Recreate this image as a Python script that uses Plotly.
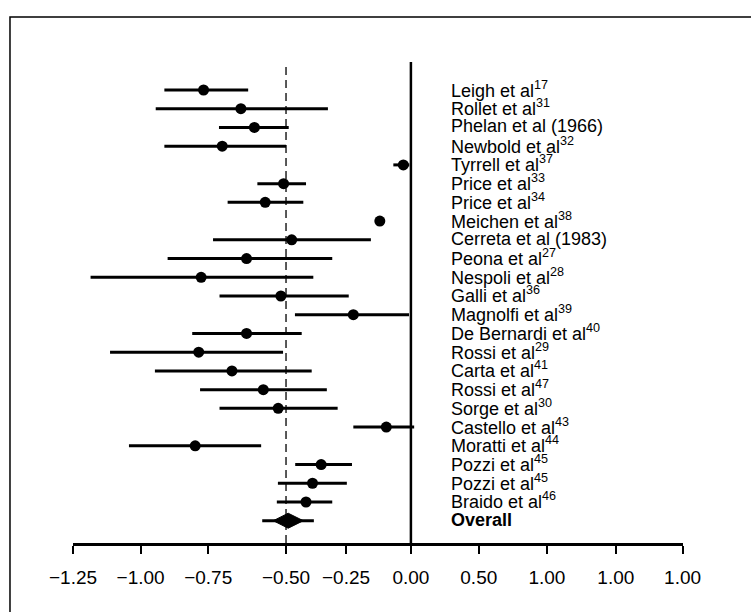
import plotly.graph_objects as go

# ---------------- data ----------------
studies = [
    "Leigh et al<sup>17</sup>",
    "Rollet et al<sup>31</sup>",
    "Phelan et al (1966)",
    "Newbold et al<sup>32</sup>",
    "Tyrrell et al<sup>37</sup>",
    "Price et al<sup>33</sup>",
    "Price et al<sup>34</sup>",
    "Meichen et al<sup>38</sup>",
    "Cerreta et al (1983)",
    "Peona et al<sup>27</sup>",
    "Nespoli et al<sup>28</sup>",
    "Galli et al<sup>36</sup>",
    "Magnolfi et al<sup>39</sup>",
    "De Bernardi et al<sup>40</sup>",
    "Rossi et al<sup>29</sup>",
    "Carta et al<sup>41</sup>",
    "Rossi et al<sup>47</sup>",
    "Sorge et al<sup>30</sup>",
    "Castello et al<sup>43</sup>",
    "Moratti et al<sup>44</sup>",
    "Pozzi et al<sup>45</sup>",
    "Pozzi et al<sup>45</sup>",
    "Braido et al<sup>46</sup>",
]
estimate = [-0.767, -0.629, -0.579, -0.698, -0.028, -0.471, -0.539, -0.115,
            -0.441, -0.608, -0.776, -0.481, -0.213, -0.608, -0.785, -0.662,
            -0.546, -0.491, -0.091, -0.798, -0.332, -0.364, -0.388]
ci_low = [-0.912, -0.944, -0.710, -0.912, -0.065, -0.568, -0.678, -0.125,
          -0.732, -0.900, -1.185, -0.708, -0.429, -0.809, -1.113, -0.947,
          -0.780, -0.708, -0.213, -1.043, -0.428, -0.492, -0.496]
ci_high = [-0.602, -0.307, -0.452, -0.462, -0.006, -0.388, -0.398, -0.105,
           -0.148, -0.291, -0.361, -0.230, -0.007, -0.404, -0.473, -0.367,
           -0.311, -0.271, 0.012, -0.554, -0.218, -0.237, -0.291]

overall_label = "<b>Overall</b>"
overall_est = -0.454
overall_low = -0.550
overall_high = -0.359
overall_diamond_low = -0.509
overall_diamond_high = -0.398
reference_line = -0.462

tick_vals = [-1.25, -1.0, -0.75, -0.462, -0.24, 0.0, 0.251, 0.503, 0.758, 1.005]
tick_text = ["\u22121.25", "\u22121.00", "\u22120.75", "\u22120.50", "\u22120.25",
             "0.00", "0.50", "1.00", "1.00", "1.00"]

# ---------------- figure ----------------
FONT = "Liberation Sans, Arial, Helvetica, sans-serif"
rows = list(range(len(studies)))
overall_row = len(studies)
diamond_half = 0.4

fig = go.Figure()

fig.add_trace(go.Scatter(
    x=estimate, y=rows, mode="markers",
    marker=dict(size=11, color="black", symbol="circle"),
    error_x=dict(type="data", symmetric=False,
                 array=[h - e for h, e in zip(ci_high, estimate)],
                 arrayminus=[e - l for e, l in zip(estimate, ci_low)],
                 thickness=3, width=0, color="black"),
    showlegend=False, hoverinfo="skip",
))

# overall line
fig.add_trace(go.Scatter(
    x=[overall_est], y=[overall_row], mode="markers",
    marker=dict(size=1, color="rgba(0,0,0,0)"),
    error_x=dict(type="data", symmetric=False,
                 array=[overall_high - overall_est],
                 arrayminus=[overall_est - overall_low],
                 thickness=3, width=0, color="black"),
    showlegend=False, hoverinfo="skip",
))
# overall diamond
fig.add_trace(go.Scatter(
    x=[overall_diamond_low, overall_est, overall_diamond_high, overall_est, overall_diamond_low],
    y=[overall_row, overall_row - diamond_half, overall_row, overall_row + diamond_half, overall_row],
    mode="lines", fill="toself", fillcolor="black",
    line=dict(color="black", width=1),
    showlegend=False, hoverinfo="skip",
))

# vertical lines
fig.add_shape(type="line", xref="x", yref="paper", x0=0, x1=0, y0=0, y1=1,
              line=dict(color="black", width=2.5))
fig.add_shape(type="line", xref="x", yref="paper", x0=reference_line, x1=reference_line,
              y0=0, y1=1, line=dict(color="black", width=1.3, dash="8px,5px"))

# labels
for i, s in enumerate(studies):
    fig.add_annotation(x=0.1405, y=i, xref="x", yref="y", text=s, showarrow=False,
                       xanchor="left", yanchor="middle", yshift=1,
                       font=dict(family=FONT, size=18, color="black"))
fig.add_annotation(x=0.1405, y=overall_row, xref="x", yref="y", text=overall_label,
                   showarrow=False, xanchor="left", yanchor="middle", yshift=1,
                   font=dict(family=FONT, size=18, color="black"))

# outer frame
fig.add_shape(type="rect", xref="paper", yref="paper",
              x0=-0.1033, x1=1.25, y0=-0.3, y1=1.0936,
              line=dict(color="black", width=1.5), fillcolor="rgba(0,0,0,0)")

fig.update_layout(
    width=751, height=612,
    margin=dict(l=73, r=68, t=62, b=69),
    plot_bgcolor="white", paper_bgcolor="white",
    font=dict(family=FONT, color="black"),
    xaxis=dict(range=[-1.25, 1.0065], tickmode="array", tickvals=tick_vals,
               ticktext=tick_text, showline=True, linecolor="black", linewidth=2.5,
               ticks="outside", ticklen=8, tickwidth=2, tickcolor="black",
               showgrid=False, zeroline=False, ticklabelstandoff=7,
               tickfont=dict(family=FONT, size=19, color="black"), fixedrange=True),
    yaxis=dict(range=[24.19, -1.495], visible=False, showgrid=False, zeroline=False),
)

fig.write_html("out.html", config={"displayModeBar": False},
               post_script="document.body.style.margin='0px';")
